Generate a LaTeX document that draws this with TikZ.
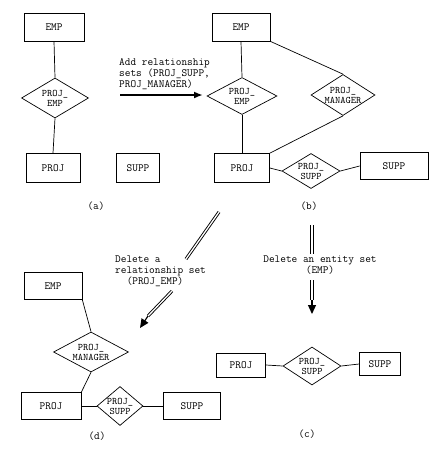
\documentclass[tikz,border=0pt]{standalone}
\usetikzlibrary{shapes.geometric,arrows.meta}

\tikzset{
  entity/.style={draw, line width=0.7pt, inner sep=1pt,
    font=\ttfamily\fontsize{11}{12}\selectfont},
  relship/.style={draw, diamond, line width=0.7pt, inner sep=-2pt,
    shape aspect=1.6, align=center, font=\ttfamily\fontsize{10}{10}\selectfont},
  conn/.style={line width=0.7pt},
  note/.style={inner sep=0pt, font=\ttfamily\fontsize{11}{11}\selectfont},
  caption/.style={font=\ttfamily\fontsize{11}{12}\selectfont},
  dblarrow/.style={double, line width=0.9pt, double distance=1.3pt},
  dbltip/.style={line width=1.2pt, -{Triangle[length=9pt,width=8pt]}},
}

\begin{document}
\begin{tikzpicture}[x=1pt,y=-1pt]
  \useasboundingbox (0,0) rectangle (434,450);

  % (a) the starting schema
  \node[entity, minimum width=60pt, minimum height=28pt] (emp_a) at (54,27) {EMP};
  \node[relship, minimum width=67pt, minimum height=40pt] (pe_a) at (55,98) {PROJ\_\\EMP};
  \node[entity, minimum width=54pt, minimum height=29pt] (proj_a) at (53,168) {PROJ};
  \node[entity, minimum width=43pt, minimum height=29pt] (supp_a) at (138,168) {SUPP};
  \node[caption] (cap_a) at (96,206) {(a)};
  \draw[conn] (emp_a.south) -- (pe_a.north);
  \draw[conn] (pe_a.south) -- (proj_a.north);

  % step (a) -> (b)
  \node[note, anchor=north west, align=left] (add_note) at (119,58)
    {Add relationship\\sets (PROJ\_SUPP,\\PROJ\_MANAGER)};
  \coordinate (add_s) at (120,95);
  \coordinate (add_e) at (203,95);
  \draw[line width=2.4pt, -{Latex[length=9pt,width=7pt]}] (add_s) -- (add_e);

  % (b) after adding the two relationship sets
  \node[entity, minimum width=58pt, minimum height=28pt] (emp_b) at (241,27) {EMP};
  \node[relship, minimum width=70pt, minimum height=37pt] (pe_b) at (242,96) {PROJ\_\\EMP};
  \node[relship, minimum width=64pt, minimum height=41pt] (mg_b) at (343,95) {PROJ\_\\MANAGER};
  \node[entity, minimum width=55pt, minimum height=29pt] (proj_b) at (242,168) {PROJ};
  \node[relship, minimum width=58pt, minimum height=35pt] (ps_b) at (311,171) {PROJ\_\\SUPP};
  \node[entity, minimum width=68pt, minimum height=27pt] (supp_b) at (394,166) {SUPP};
  \node[caption] (cap_b) at (309,206) {(b)};
  \draw[conn] (emp_b.south) -- (pe_b.north);
  \draw[conn] (pe_b.south) -- (proj_b.north);
  \draw[conn] (emp_b.south east) -- (mg_b.north);
  \draw[conn] (mg_b.south) -- (proj_b.north east);
  \draw[conn] (proj_b.east) -- (ps_b.west);
  \draw[conn] (ps_b.east) -- (supp_b.west);

  % step (b) -> (d)
  \coordinate (dr1) at (219,212);
  \coordinate (dr2) at (186,259);
  \coordinate (dr3) at (172,291);
  \coordinate (dr4) at (148,316);
  \coordinate (dr5) at (140,328);
  \draw[dblarrow] (dr1) -- (dr2);
  \node[note, anchor=north west, align=left] (del_rel) at (115,256)
    {Delete a\\relationship set\\\hspace*{1.05em}(PROJ\_EMP)};
  \draw[dblarrow] (dr3) -- (dr4);
  \draw[dbltip] (dr4) -- (dr5);

  % step (b) -> (c)
  \coordinate (de1) at (312,225);
  \coordinate (de2) at (312,254);
  \coordinate (de3) at (312,280);
  \coordinate (de4) at (312,300);
  \coordinate (de5) at (312,314);
  \draw[dblarrow] (de1) -- (de2);
  \node[note, anchor=north, align=center] (del_ent) at (320,256)
    {Delete an entity set\\(EMP)};
  \draw[dblarrow] (de3) -- (de4);
  \draw[dbltip] (de4) -- (de5);

  % (c) after deleting EMP
  \node[entity, minimum width=49pt, minimum height=24pt] (proj_c) at (241,365) {PROJ};
  \node[relship, minimum width=58pt, minimum height=38pt] (ps_c) at (312,366) {PROJ\_\\SUPP};
  \node[entity, minimum width=41pt, minimum height=23pt] (supp_c) at (380,364) {SUPP};
  \node[caption] (cap_c) at (307,434) {(c)};
  \draw[conn] (proj_c.east) -- (ps_c.west);
  \draw[conn] (ps_c.east) -- (supp_c.west);

  % (d) after deleting PROJ_EMP
  \node[entity, minimum width=58pt, minimum height=27pt] (emp_d) at (53,286) {EMP};
  \node[relship, minimum width=75pt, minimum height=40pt] (mg_d) at (91,352) {PROJ\_\\MANAGER};
  \node[entity, minimum width=60pt, minimum height=27pt] (proj_d) at (51,406) {PROJ};
  \node[relship, minimum width=46pt, minimum height=39pt] (ps_d) at (120,406) {PROJ\_\\SUPP};
  \node[entity, minimum width=57pt, minimum height=27pt] (supp_d) at (192,406) {SUPP};
  \node[caption] (cap_d) at (97,436) {(d)};
  \draw[conn] (emp_d.south east) -- (mg_d.north);
  \draw[conn] (mg_d.south) -- (proj_d.north east);
  \draw[conn] (proj_d.east) -- (ps_d.west);
  \draw[conn] (ps_d.east) -- (supp_d.west);
\end{tikzpicture}
\end{document}
